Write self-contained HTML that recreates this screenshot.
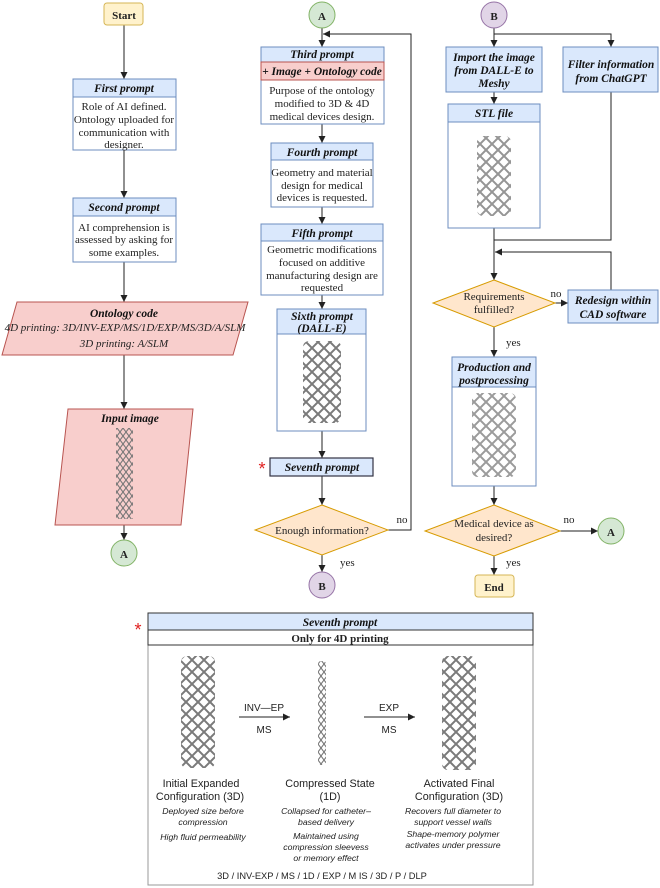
<!DOCTYPE html>
<html><head><meta charset="utf-8"><style>
html,body{margin:0;padding:0;background:#fff}
svg{display:block}
.s{font-family:"Liberation Serif",serif;font-size:11px;fill:#222}
.h{font-family:"Liberation Serif",serif;font-size:11.5px;font-weight:bold;font-style:italic;fill:#111}
.a{font-family:"Liberation Sans",sans-serif;fill:#222}
</style></head><body>
<svg width="660" height="888" viewBox="0 0 660 888" xmlns="http://www.w3.org/2000/svg">
<defs>
<marker id="ar" markerWidth="8" markerHeight="8" refX="7" refY="4" orient="auto" markerUnits="userSpaceOnUse"><path d="M0,0.5 L7,4 L0,7.5 Z" fill="#222"/></marker>
<pattern id="lat" width="12" height="12" patternUnits="userSpaceOnUse"><path d="M0 0 L6 6 L0 12 M12 0 L6 6 L12 12" stroke="#7a7a7a" stroke-width="2" fill="none"/></pattern>
<pattern id="lat2" width="6" height="8" patternUnits="userSpaceOnUse"><path d="M0 0 L3 4 L0 8 M6 0 L3 4 L6 8" stroke="#777" stroke-width="1.1" fill="none"/></pattern>
</defs>
<g stroke="#222" stroke-width="1" fill="none" marker-end="url(#ar)">
<line x1="124" y1="25" x2="124" y2="79"/>
<line x1="124" y1="150" x2="124" y2="198"/>
<line x1="124" y1="262" x2="124" y2="302"/>
<line x1="124" y1="355" x2="124" y2="409"/>
<line x1="124" y1="525" x2="124" y2="540"/>
<line x1="322" y1="28" x2="322" y2="47"/>
<line x1="322" y1="124" x2="322" y2="143"/>
<line x1="322" y1="207" x2="322" y2="224"/>
<line x1="322" y1="295" x2="322" y2="309"/>
<line x1="322" y1="431" x2="322" y2="458"/>
<line x1="322" y1="476" x2="322" y2="505"/>
<line x1="322" y1="555" x2="322" y2="572"/>
<polyline points="388,530 411,530 411,34 323,34"/>
<line x1="494" y1="28" x2="494" y2="47"/>
<polyline points="494,34 611,34 611,47"/>
<line x1="494" y1="92" x2="494" y2="104"/>
<line x1="494" y1="228" x2="494" y2="280"/>
<polyline points="611,323 611,252 495,252"/>
<line x1="555" y1="303" x2="568" y2="303"/>
<line x1="494" y1="327" x2="494" y2="357"/>
<line x1="494" y1="486" x2="494" y2="505"/>
<line x1="560" y1="531" x2="598" y2="531"/>
<line x1="494" y1="556" x2="494" y2="575"/>
</g>
<polyline points="494,228 494,240 611,240 611,92" stroke="#222" fill="none"/>

<!-- Left column -->
<rect x="104" y="3" width="39" height="22" rx="3" fill="#fff2cc" stroke="#d6b656"/>
<text x="124" y="19" class="s" font-weight="bold" font-size="12" text-anchor="middle">Start</text>
<rect x="73" y="79" width="103" height="71" fill="#fff" stroke="#6c8ebf"/>
<rect x="73" y="79" width="103" height="18" fill="#dae8fc" stroke="#6c8ebf"/>
<text x="124" y="92" class="h" text-anchor="middle">First prompt</text>
<text class="s" text-anchor="middle"><tspan x="124" y="110">Role of AI defined.</tspan><tspan x="124" y="123">Ontology uploaded for</tspan><tspan x="124" y="136">communication with</tspan><tspan x="124" y="148">designer.</tspan></text>
<rect x="73" y="198" width="103" height="64" fill="#fff" stroke="#6c8ebf"/>
<rect x="73" y="198" width="103" height="18" fill="#dae8fc" stroke="#6c8ebf"/>
<text x="124" y="211" class="h" text-anchor="middle">Second prompt</text>
<text class="s" text-anchor="middle"><tspan x="124" y="231">AI comprehension is</tspan><tspan x="124" y="243">assessed by asking for</tspan><tspan x="124" y="256">some examples.</tspan></text>
<polygon points="17,302 248,302 233,355 2,355" fill="#f8cecc" stroke="#b85450"/>
<text x="124" y="317" class="h" text-anchor="middle">Ontology code</text>
<text class="s" font-style="italic" font-size="9.6" text-anchor="middle"><tspan x="125" y="331">4D printing: 3D/INV-EXP/MS/1D/EXP/MS/3D/A/SLM</tspan><tspan x="124" y="347">3D printing: A/SLM</tspan></text>
<polygon points="68,409 193,409 181,525 55,525" fill="#f8cecc" stroke="#b85450"/>
<text x="130" y="422" class="h" text-anchor="middle">Input image</text>
<rect x="116" y="428" width="17" height="91" fill="url(#lat2)"/>
<circle cx="124" cy="553" r="13" fill="#d5e8d4" stroke="#82b366"/>
<text x="124" y="558" class="s" font-weight="bold" font-size="12" text-anchor="middle">A</text>

<!-- Middle column -->
<circle cx="322" cy="15" r="13" fill="#d5e8d4" stroke="#82b366"/>
<text x="322" y="20" class="s" font-weight="bold" font-size="12" text-anchor="middle">A</text>
<rect x="261" y="47" width="123" height="77" fill="#fff" stroke="#6c8ebf"/>
<rect x="261" y="47" width="123" height="15" fill="#dae8fc" stroke="#6c8ebf"/>
<rect x="261" y="62" width="123" height="18" fill="#f8cecc" stroke="#b85450"/>
<text x="322" y="58" class="h" text-anchor="middle">Third prompt</text>
<text x="322" y="75" class="h" text-anchor="middle">+ Image + Ontology code</text>
<text class="s" text-anchor="middle"><tspan x="322" y="94">Purpose of the ontology</tspan><tspan x="322" y="107">modified to 3D &amp; 4D</tspan><tspan x="322" y="120">medical devices design.</tspan></text>
<rect x="271" y="143" width="102" height="64" fill="#fff" stroke="#6c8ebf"/>
<rect x="271" y="143" width="102" height="17" fill="#dae8fc" stroke="#6c8ebf"/>
<text x="322" y="156" class="h" text-anchor="middle">Fourth prompt</text>
<text class="s" text-anchor="middle"><tspan x="322" y="176">Geometry and material</tspan><tspan x="322" y="189">design for medical</tspan><tspan x="322" y="201">devices is requested.</tspan></text>
<rect x="261" y="224" width="122" height="71" fill="#fff" stroke="#6c8ebf"/>
<rect x="261" y="224" width="122" height="17" fill="#dae8fc" stroke="#6c8ebf"/>
<text x="322" y="237" class="h" text-anchor="middle">Fifth prompt</text>
<text class="s" text-anchor="middle"><tspan x="322" y="253">Geometric modifications</tspan><tspan x="322" y="266">focused on additive</tspan><tspan x="322" y="279">manufacturing design are</tspan><tspan x="322" y="291">requested</tspan></text>
<rect x="277" y="309" width="89" height="122" fill="#fff" stroke="#6c8ebf"/>
<rect x="277" y="309" width="89" height="25" fill="#dae8fc" stroke="#6c8ebf"/>
<text class="h" text-anchor="middle"><tspan x="322" y="320">Sixth prompt</tspan><tspan x="322" y="332">(DALL-E)</tspan></text>
<rect x="303" y="341" width="38" height="82" rx="6" fill="url(#lat)"/>
<rect x="270" y="458" width="103" height="18" fill="#dae8fc" stroke="#334" stroke-width="1.2"/>
<text x="322" y="471" class="h" text-anchor="middle">Seventh prompt</text>
<text x="262" y="475" font-size="18" fill="#e02020" text-anchor="middle" font-family="Liberation Sans,sans-serif">*</text>
<polygon points="322,505 388,530 322,555 255,530" fill="#ffe6cc" stroke="#d79b00"/>
<text x="322" y="534" class="s" text-anchor="middle">Enough information?</text>
<text x="402" y="523" class="s" text-anchor="middle">no</text>
<text x="340" y="566" class="s">yes</text>
<circle cx="322" cy="585" r="13" fill="#e1d5e7" stroke="#9673a6"/>
<text x="322" y="590" class="s" font-weight="bold" font-size="12" text-anchor="middle">B</text>

<!-- Right column -->
<circle cx="494" cy="15" r="13" fill="#e1d5e7" stroke="#9673a6"/>
<text x="494" y="20" class="s" font-weight="bold" font-size="12" text-anchor="middle">B</text>
<rect x="446" y="47" width="96" height="45" fill="#dae8fc" stroke="#6c8ebf"/>
<text class="h" text-anchor="middle"><tspan x="494" y="61">Import the image</tspan><tspan x="494" y="74">from DALL-E to</tspan><tspan x="494" y="87">Meshy</tspan></text>
<rect x="563" y="47" width="95" height="45" fill="#dae8fc" stroke="#6c8ebf"/>
<text class="h" text-anchor="middle"><tspan x="611" y="68">Filter information</tspan><tspan x="611" y="82">from ChatGPT</tspan></text>
<rect x="448" y="104" width="92" height="124" fill="#fff" stroke="#6c8ebf"/>
<rect x="448" y="104" width="92" height="18" fill="#dae8fc" stroke="#6c8ebf"/>
<text x="494" y="117" class="h" text-anchor="middle">STL file</text>
<rect x="477" y="136" width="34" height="80" rx="6" fill="url(#lat)" opacity="0.8"/>
<polygon points="494,280 555,303 494,327 433,303" fill="#ffe6cc" stroke="#d79b00"/>
<text class="s" text-anchor="middle"><tspan x="494" y="300">Requirements</tspan><tspan x="494" y="313">fulfilled?</tspan></text>
<text x="556" y="297" class="s" text-anchor="middle">no</text>
<rect x="568" y="290" width="90" height="33" fill="#dae8fc" stroke="#6c8ebf"/>
<text class="h" text-anchor="middle"><tspan x="613" y="304">Redesign within</tspan><tspan x="613" y="318">CAD software</tspan></text>
<text x="506" y="346" class="s">yes</text>
<rect x="452" y="357" width="84" height="129" fill="#fff" stroke="#6c8ebf"/>
<rect x="452" y="357" width="84" height="30" fill="#dae8fc" stroke="#6c8ebf"/>
<text class="h" text-anchor="middle"><tspan x="494" y="371">Production and</tspan><tspan x="494" y="384">postprocessing</tspan></text>
<rect x="472" y="393" width="44" height="84" rx="6" fill="url(#lat)" opacity="0.75"/>
<polygon points="494,505 560,531 494,556 425,531" fill="#ffe6cc" stroke="#d79b00"/>
<text class="s" text-anchor="middle"><tspan x="494" y="527">Medical device as</tspan><tspan x="494" y="541">desired?</tspan></text>
<text x="569" y="523" class="s" text-anchor="middle">no</text>
<circle cx="611" cy="531" r="13" fill="#d5e8d4" stroke="#82b366"/>
<text x="611" y="536" class="s" font-weight="bold" font-size="12" text-anchor="middle">A</text>
<text x="506" y="566" class="s">yes</text>
<rect x="475" y="575" width="39" height="22" rx="3" fill="#fff2cc" stroke="#d6b656"/>
<text x="494" y="591" class="s" font-weight="bold" font-size="12" text-anchor="middle">End</text>

<!-- Bottom panel -->
<rect x="148" y="613" width="385" height="272" fill="#fff" stroke="#999"/>
<rect x="148" y="613" width="385" height="17" fill="#dae8fc" stroke="#333"/>
<rect x="148" y="630" width="385" height="15" fill="#fff" stroke="#333"/>
<text x="340" y="626" class="h" font-size="12.5" text-anchor="middle">Seventh prompt</text>
<text x="340" y="642" class="s" font-weight="bold" text-anchor="middle">Only for 4D printing</text>
<text x="138" y="636" font-size="18" fill="#e02020" text-anchor="middle" font-family="Liberation Sans,sans-serif">*</text>
<rect x="181" y="656" width="34" height="112" rx="6" fill="url(#lat)"/>
<rect x="318" y="661" width="8" height="104" rx="3" fill="url(#lat2)"/>
<rect x="442" y="656" width="34" height="114" rx="6" fill="url(#lat)"/>
<g stroke="#222" stroke-width="1" fill="none" marker-end="url(#ar)">
<line x1="239" y1="717" x2="290" y2="717"/>
<line x1="364" y1="717" x2="415" y2="717"/>
</g>
<text x="264" y="711" class="a" font-size="10" text-anchor="middle">INV—EP</text>
<text x="264" y="733" class="a" font-size="10" text-anchor="middle">MS</text>
<text x="389" y="711" class="a" font-size="10" text-anchor="middle">EXP</text>
<text x="389" y="733" class="a" font-size="10" text-anchor="middle">MS</text>
<g class="a" font-size="10.8" text-anchor="middle">
<text x="201" y="787">Initial Expanded</text><text x="200" y="800">Configuration (3D)</text>
<text x="330" y="787">Compressed State</text><text x="330" y="800">(1D)</text>
<text x="459" y="787">Activated Final</text><text x="459" y="800">Configuration (3D)</text>
</g>
<g class="a" font-size="8.7" font-style="italic" text-anchor="middle">
<text x="203" y="814">Deployed size before</text><text x="203" y="825">compression</text><text x="203" y="840">High fluid permeability</text>
<text x="326" y="814">Collapsed for catheter–</text><text x="326" y="825">based delivery</text><text x="326" y="839">Maintained using</text><text x="326" y="850">compression sleevess</text><text x="326" y="861">or memory effect</text>
<text x="453" y="814">Recovers full diameter to</text><text x="453" y="825">support vessel walls</text><text x="453" y="837">Shape-memory polymer</text><text x="453" y="848">activates under pressure</text>
</g>
<text x="322" y="879" class="a" font-size="9.3" text-anchor="middle">3D / INV-EXP / MS / 1D / EXP / M IS / 3D / P / DLP</text>
</svg>
</body></html>
